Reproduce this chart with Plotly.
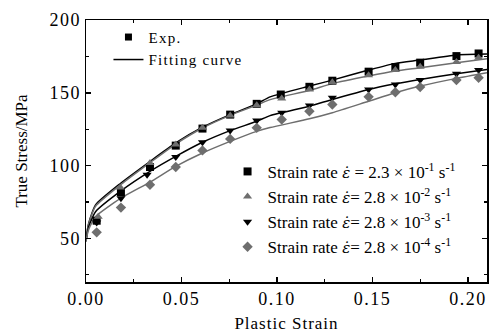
import plotly.graph_objects as go

# ---- data ----
exp_x1 = [0.0056, 0.0183, 0.0335, 0.047, 0.061, 0.0755, 0.0894, 0.1020, 0.117, 0.129, 0.148, 0.162, 0.175, 0.194, 0.2056]
exp_y1 = [62.1, 81.7, 99.0, 113.7, 125.4, 135.0, 142.4, 148.8, 154.1, 158.3, 164.5, 167.7, 170.7, 175.2, 177.0]

exp_x2 = [0.0064, 0.018, 0.0335, 0.047, 0.061, 0.0755, 0.0894, 0.1025, 0.117, 0.129, 0.148, 0.162, 0.175, 0.194, 0.2056]
exp_y2 = [64.9, 84.9, 101.7, 114.4, 125.9, 134.4, 141.5, 146.1, 152.3, 157.3, 162.1, 165.6, 167.9, 171.2, 174.0]

exp_x3 = [0.0056, 0.0183, 0.032, 0.047, 0.061, 0.0755, 0.0894, 0.1025, 0.117, 0.129, 0.148, 0.162, 0.175, 0.194, 0.2056]
exp_y3 = [60.8, 77.6, 93.7, 105.9, 116.0, 124.0, 130.9, 136.2, 141.2, 146.5, 152.3, 155.7, 158.7, 163.1, 165.6]

exp_x4 = [0.0056, 0.0183, 0.0335, 0.047, 0.061, 0.0755, 0.0894, 0.1025, 0.117, 0.129, 0.148, 0.162, 0.175, 0.194, 0.2056]
exp_y4 = [54.1, 71.1, 86.8, 99.0, 110.4, 118.3, 125.9, 131.6, 137.3, 141.9, 147.2, 150.4, 153.9, 158.7, 160.3]

fit_x = [0.0, 0.001, 0.002, 0.005, 0.0183, 0.0335, 0.047, 0.061, 0.0755, 0.0894, 0.0964, 0.117, 0.129, 0.148, 0.162, 0.175, 0.194, 0.21]
fit_y1 = [48.0, 58.0, 63.0, 73.0, 88.0, 102.8, 115.5, 126.3, 135.0, 142.4, 147.2, 154.6, 158.7, 165.6, 170.2, 172.5, 176.0, 176.6]
fit_y2 = [48.0, 57.5, 62.5, 72.0, 87.0, 102.0, 114.8, 125.8, 134.5, 141.5, 145.3, 151.6, 156.3, 161.5, 164.9, 167.2, 170.7, 173.4]
fit_y3 = [48.0, 56.0, 60.0, 68.3, 82.6, 96.0, 106.3, 116.0, 124.0, 130.4, 134.3, 140.8, 145.4, 152.3, 156.2, 159.2, 163.1, 166.0]
fit_y4 = [48.0, 54.5, 58.0, 64.9, 77.6, 88.6, 99.4, 108.6, 116.6, 123.5, 126.1, 132.1, 136.3, 144.2, 150.0, 154.6, 159.9, 163.8]

EPS = "<span style='font-family:DejaVu Serif;font-style:italic;font-size:15px'>ε̇</span>"
labels = [
    "Strain rate " + EPS + " = 2.3 × 10<sup>-1</sup> s<sup>-1</sup>",
    "Strain rate " + EPS + "= 2.8 × 10<sup>-2</sup> s<sup>-1</sup>",
    "Strain rate " + EPS + "= 2.8 × 10<sup>-3</sup> s<sup>-1</sup>",
    "Strain rate " + EPS + "= 2.8 × 10<sup>-4</sup> s<sup>-1</sup>",
]

BLACK = "#000000"
GRAY = "#6e6e6e"
FONT = "Liberation Serif"

fig = go.Figure()

fits = [(fit_y1, BLACK), (fit_y2, GRAY), (fit_y3, BLACK), (fit_y4, GRAY)]
for fy, c in fits:
    fig.add_trace(go.Scatter(x=fit_x, y=fy, mode="lines", line=dict(color=c, width=1.5, shape="spline", smoothing=0.6),
                             showlegend=False, hoverinfo="skip"))

exps = [
    (exp_x1, exp_y1, "square", BLACK, 8),
    (exp_x2, exp_y2, "triangle-up", GRAY, 8),
    (exp_x3, exp_y3, "triangle-down", BLACK, 8),
    (exp_x4, exp_y4, "diamond", GRAY, 8),
]
for (ex, ey, sym, c, sz), lab in zip(exps, labels):
    fig.add_trace(go.Scatter(x=ex, y=ey, mode="markers", name=lab,
                             marker=dict(symbol=sym, color=c, size=sz, line=dict(width=0)),
                             legend="legend2"))

# legend 1 dummy entries
fig.add_trace(go.Scatter(x=[None], y=[None], mode="markers", name="Exp.",
                         marker=dict(symbol="square", color=BLACK, size=7), legend="legend"))
fig.add_trace(go.Scatter(x=[None], y=[None], mode="lines", name="Fitting curve",
                         line=dict(color=BLACK, width=1.5), legend="legend"))

axis_common = dict(showline=True, linecolor="black", linewidth=1.5, mirror="ticks",
                   ticks="inside", ticklen=5, tickwidth=1.5, tickcolor="black",
                   showgrid=False, zeroline=False, automargin=False,
                   tickfont=dict(family=FONT, size=18, color="black"))

fig.update_xaxes(range=[0, 0.21], dtick=0.05, tick0=0, tickformat=".2f",
                 minor=dict(ticks="inside", ticklen=3, tickwidth=1.2, tickcolor="black", dtick=0.025),
                 title=dict(text="Plastic Strain", font=dict(family=FONT, size=17, color="black"), standoff=9),
                 **axis_common)
fig.update_yaxes(range=[20, 200], dtick=50, tick0=0,
                 minor=dict(ticks="inside", ticklen=3, tickwidth=1.2, tickcolor="black", dtick=25),
                 title=dict(text="True Stress/MPa", font=dict(family=FONT, size=17, color="black"), standoff=22),
                 **axis_common)

fig.update_layout(
    width=490, height=336,
    margin=dict(l=86, r=3, t=20, b=54),
    paper_bgcolor="white", plot_bgcolor="white",
    font=dict(family=FONT, color="black"),
    legend=dict(x=0.056, y=0.997, xanchor="left", yanchor="top", bgcolor="rgba(0,0,0,0)",
                font=dict(family=FONT, size=15), tracegroupgap=0, itemwidth=30),
    legend2=dict(x=0.353, y=0.489, xanchor="left", yanchor="top", bgcolor="rgba(0,0,0,0)",
                 font=dict(family=FONT, size=17), tracegroupgap=0, itemwidth=30),
)

post = """
document.body.style.margin = '0';
document.body.style.padding = '0';
var gd = document.getElementById('{plot_id}');
function styleTexts() {
  gd.querySelectorAll('.xtick text, .ytick text').forEach(function(t){ t.style.letterSpacing = '1.5px'; });
  gd.querySelectorAll('.g-xtitle text').forEach(function(t){ t.style.letterSpacing = '1px'; });
  gd.querySelectorAll('text.legendtext').forEach(function(t){
    var big = (t.textContent.indexOf('rate') >= 0);
    var ls = big ? '0.5px' : '1.3px';
    t.setAttribute('letter-spacing', ls);
    t.style.letterSpacing = ls;
    t.querySelectorAll('tspan').forEach(function(s){
      if (s.querySelector('tspan') === null && s.textContent.indexOf('\\u03b5') >= 0) {
        s.style.letterSpacing = '0px';
      }
    });
  });
  gd.querySelectorAll('.infolayer [clip-path]').forEach(function(e){ e.removeAttribute('clip-path'); });
}
styleTexts();
setTimeout(styleTexts, 50);
setTimeout(styleTexts, 300);
if (document.fonts && document.fonts.ready) { document.fonts.ready.then(styleTexts); }
"""

fig.write_html("out.html", post_script=post, config={"displayModeBar": False, "staticPlot": True})
